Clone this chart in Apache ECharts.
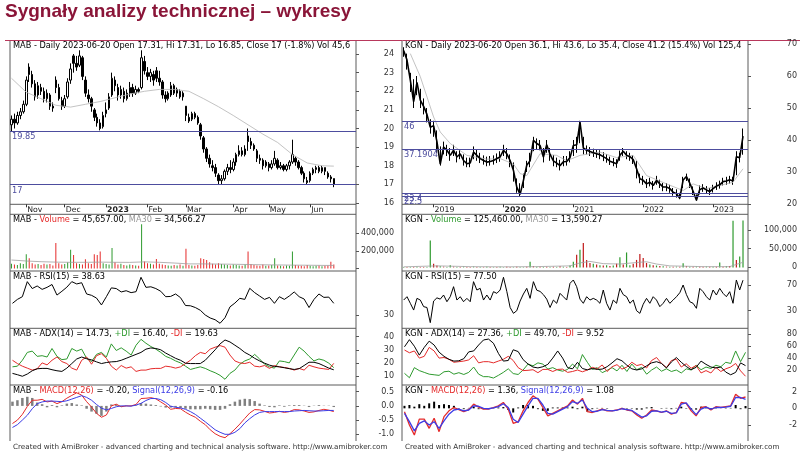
<!DOCTYPE html>
<html><head><meta charset="utf-8">
<script src="https://cdn.jsdelivr.net/npm/echarts@6/dist/echarts.min.js"></script>
<style>html,body{margin:0;padding:0;background:#fff}#c{width:800px;height:454px}</style>
</head><body><div id="c"></div><script>
// ---------------- DATA: MAB (daily candles, sampled) ----------------
const mabMonthLabels = ['Nov','Dec','2023','Feb','Mar','Apr','May','Jun'];
const mabMonthIdx = [5,18,32,46,59,75,87,101];
const mabOpen = [20.2,20.5,20.3,20.7,20.9,21.3,23.3,22.9,22.4,21.8, 22.2,22.0,21.6,21.8,21.2,22.6,22.2,21.5,21.2,21.7, 22.6,23.9,23.5,23.4,23.8,22.6,21.8,21.6,21.0,20.6, 20.3,20.1,20.8,21.1,21.8,22.6,22.2,21.8,22.0,21.6, 21.9,22.2,21.9,22.1,22.2,23.6,23.0,22.8,22.9,23.1, 22.7,22.5,21.8,21.6,21.8,22.3,21.9,22.0,21.7,21.2, 20.6,20.5,20.8,20.6,20.2,19.5,18.9,18.4,18.0,17.9, 17.5,17.2,17.3,17.7,17.9,17.8,18.2,18.6,18.8,18.6, 19.6,19.3,19.1,18.8,18.4,18.3,18.0,18.1,17.9,18.1, 18.3,17.9,18.0,17.8,18.0,18.2,18.4,18.2,17.9,17.6, 17.2,17.2,17.6,17.8,17.9,17.7,17.9,17.6,17.4,17.31];
const mabClose = [20.5,20.3,20.7,20.9,21.3,22.6,22.9,22.4,21.7,22.3, 22.0,21.6,21.9,21.2,21.1,22.2,21.6,21.2,21.6,22.5, 23.2,23.5,23.3,23.9,22.8,21.9,21.6,21.2,20.6,20.3, 20.0,20.7,21.0,21.7,22.7,22.3,21.8,22.1,21.6,21.9, 22.2,21.9,22.1,22.0,23.8,23.1,22.8,23.0,22.6,22.7, 22.5,21.8,21.6,21.9,22.3,21.9,22.1,21.7,21.9,20.7, 20.4,20.8,20.6,20.3,19.6,18.9,18.4,18.1,17.9,17.6, 17.2,17.3,17.7,17.9,17.8,18.2,18.6,18.8,18.6,18.9, 19.3,19.1,18.9,18.4,18.3,18.0,18.2,17.9,18.1,18.4, 17.9,18.0,17.8,18.0,18.2,18.6,18.2,17.9,17.6,17.3, 17.1,17.6,17.8,17.9,17.7,17.9,17.7,17.4,17.3,17.0];
const mabLow = [19.85,20.0,20.2,20.5,20.8,21.2,22.5,22.2,21.5,21.6, 21.8,21.4,21.4,21.0,20.9,21.9,21.5,21.0,21.1,21.6, 22.4,23.0,23.1,23.3,22.6,21.7,21.4,20.9,20.4,20.1, 19.9,20.0,20.6,21.0,21.7,22.0,21.5,21.6,21.4,21.5, 21.7,21.7,21.8,21.9,22.1,22.9,22.6,22.5,22.3,22.5, 22.3,21.6,21.4,21.5,21.7,21.8,21.7,21.6,21.5,20.4, 20.3,20.4,20.5,20.2,19.4,18.7,18.2,17.9,17.7,17.4, 17.0,17.0,17.2,17.5,17.6,17.7,18.0,18.5,18.5,18.5, 18.8,18.9,18.8,18.2,18.1,17.8,17.9,17.7,17.8,18.0, 17.8,17.8,17.7,17.7,17.8,18.1,18.0,17.8,17.5,17.1, 17.0,17.1,17.5,17.6,17.6,17.6,17.5,17.3,17.1,16.85];
const mabHigh = [20.7,20.8,20.9,21.1,21.5,22.8,23.5,23.1,22.6,22.5, 22.4,22.2,22.1,21.9,21.4,22.8,22.4,21.7,21.8,22.7, 23.5,24.0,23.9,24.2,23.9,22.8,22.1,21.7,21.1,20.8, 20.5,20.9,21.4,21.9,23.0,22.8,22.4,22.3,22.2,22.1, 22.5,22.4,22.3,22.2,24.2,23.9,23.3,23.2,23.1,23.3, 23.1,22.6,22.0,22.0,22.5,22.4,22.2,22.1,22.0,21.2, 20.8,20.9,20.9,20.7,20.3,19.6,19.0,18.6,18.3,18.1, 17.6,17.5,17.8,18.1,18.3,18.4,18.7,19.1,19.0,19.1, 20.0,19.5,19.2,18.9,18.6,18.4,18.3,18.2,18.3,18.8, 18.4,18.2,18.1,18.1,18.3,19.4,18.5,18.3,18.0,17.7, 17.4,17.7,17.9,18.0,18.0,18.0,17.9,17.7,17.5,17.31];
const mabMaPts = [[0,22.7],[5,21.95],[10,21.6],[15,21.25],[20,21.15],[25,21.3],[30,21.45],[35,21.65],[40,21.85],[45,22.0],[50,22.1],[55,22.1],[60,22.0],[65,21.6],[70,21.17],[75,20.7],[80,20.2],[85,19.7],[90,19.25],[95,18.6],[100,18.15],[105,18.0],[109,17.98]];
const mabLevels = [19.85, 17];
// volume in thousands
const mabVol = [55,45,40,60,50,161,115,60,45,50, 40,55,45,50,35,288,60,45,50,70, 211,154,60,50,45,104,60,50,161,154, 192,60,50,45,231,70,45,55,40,35, 45,40,35,30,500,80,60,55,45,108, 55,45,40,35,30,40,35,45,30,223, 40,35,30,40,115,108,96,70,55,45, 60,50,45,40,35,45,40,35,30,45, 192,50,40,35,30,45,30,35,40,115, 35,30,25,35,30,192,40,35,30,25, 40,30,25,30,35,25,30,35,77,45.657];
const mabVolMaPts = [[0,96],[5,85],[10,77],[15,72],[20,70],[25,70],[30,72],[35,70],[40,69],[45,75],[50,70],[55,62],[60,52],[65,52],[70,50],[75,48],[80,45],[85,42],[90,40],[95,38],[100,37],[105,35],[109,34.57]];
const mabRsi = [38.6,41.5,43.5,54.6,49.5,51.4,48.9,50.4,52.5,44.7, 47.5,50.5,54.6,52.9,53.8,45.5,44.5,42.5,37.4,43.5, 50,49.5,47,47.9,46.5,47.2,57.8,50.4,50.8,49.5, 47.5,43.5,43.7,45.5,42.8,37,36.8,35.5,33.5,30, 27.8,26.5,23.9,28,36,38.8,42.3,41.5,49.7,46.5, 44,41.5,43,38.6,43.5,41.5,44,47,43.5,41.8, 35.5,41.5,45.5,43,43.2,38.63];
const mabPlusDI = [17,17.5,22,28,29,25,25.5,24.5,31,25, 22.5,23,31,29,30.5,23.5,21,26.5,28,24.5, 34.5,29.5,31.5,29,26,33.5,38,35,32.5,30.5, 28,25,23.5,21.5,20,17.5,15,16,17,15.8, 14,12.5,10.5,7.5,12,14.5,19,21.5,23,26.5, 23,19,17,16,21.5,21,20,26,32,29, 25,21.5,23,22,19.8,16.4];
const mabMinusDI = [22,19.5,17.5,16,14.5,15.5,20,18.5,22,24.5, 21,19.5,16,14.5,22,24.5,19,25.5,27,23.5, 17.5,14.5,18,16,17,13.5,14.5,14.5,15.5,15.8, 15.8,17.5,17,16,17,19.5,22,25.5,28,27, 30.5,32,33.2,32,26,21.5,20,19.5,20.5,17.5, 17,18,15.8,18,17,16.5,15.8,14.5,15.8,14.5, 18.2,17,16,15.5,15,19.63];
const mabAdx = [12,11,9.8,11.5,14,15.5,15.8,15.8,14.8,14, 13.5,16,19.5,23,24.5,23.2,22.3,20.8,19.5,20.3, 20.8,21,22,23.5,25,26.5,28,30.5,31.4,31, 30,27.5,25.5,23.5,22,19.8,19.5,19.5,19.5,22, 26,30,34.5,37.5,36,33.5,31,28,26,23.5, 21.5,19.8,18.3,17.3,17,16.3,15.6,15,15.6,18, 20.5,20.5,19.5,17.8,16,14.73];
const mabMacd = [-0.62,-0.5,-0.3,-0.02,0.2,0.2,0.23,0.14,0.17,0.08, 0.15,0.27,0.37,0.46,0.38,0.15,-0.04,-0.26,-0.4,-0.32, 0,0.06,-0.03,0,0,0.05,0.26,0.27,0.29,0.25, 0.14,0.03,-0.12,-0.09,-0.1,-0.22,-0.32,-0.4,-0.54,-0.66, -0.84,-0.98,-1.07,-1.12,-0.98,-0.82,-0.64,-0.44,-0.25,-0.13, -0.14,-0.19,-0.25,-0.23,-0.19,-0.23,-0.2,-0.13,-0.14,-0.18, -0.23,-0.21,-0.16,-0.12,-0.15,-0.2];
const mabSignal = [-0.76,-0.66,-0.5,-0.33,-0.1,0.08,0.14,0.17,0.17,0.16, 0.15,0.18,0.24,0.3,0.36,0.3,0.2,0.05,-0.08,-0.14, -0.09,-0.03,0,0,-0.01,0.03,0.09,0.19,0.26,0.26, 0.22,0.12,-0.01,-0.05,-0.07,-0.12,-0.2,-0.3,-0.43,-0.56, -0.7,-0.84,-0.93,-1,-1,-0.93,-0.8,-0.6,-0.45,-0.32, -0.23,-0.2,-0.2,-0.2,-0.2,-0.2,-0.2,-0.18,-0.17,-0.16, -0.17,-0.18,-0.18,-0.17,-0.16,-0.16];
const mabHist = [0.15,0.2,0.28,0.32,0.28,0.12,0.06,-0.05,0.03,-0.05, 0.02,0.08,0.1,0.05,0.02,-0.1,-0.2,-0.28,-0.35,-0.2, 0.05,0.05,-0.03,0.01,0.01,0.02,0.1,0.08,0.05,0.03, -0.02,-0.06,-0.06,-0.05,-0.07,-0.1,-0.12,-0.12,-0.12,-0.1, -0.12,-0.14,-0.14,-0.1,0.06,0.15,0.22,0.25,0.24,0.17, 0.08,0.02,-0.04,-0.05,0.02,-0.03,0.02,0.03,0.03,0.01, -0.04,0.01,0.03,0.01,0.01,-0.04];

// ---------------- DATA: KGN (sampled ~ every 2.5 weeks) ----------------
const kgnYearLabels = ['2019','2020','2021','2022','2023'];
const kgnYearIdx = [9,30,51,72,93];
const kgnClose = [68,65,58.7,52,58,52.5,50.5,48,44,44.5, 39.5,32.5,37.8,36.8,35.2,36.8,34.7,35.7,33.6,32.6, 32.8,36.2,35.2,34.2,33.6,33.1,33.3,33.6,34.2,34.7, 36.8,35.7,33.6,30.5,25.3,23,27.4,32.1,33.5,39.9, 38.9,38.3,34.7,38.5,35.5,33.5,32.8,32,33.2,33.3, 34.5,38.3,38.5,45.6,37.5,36.8,36.4,36,35.7,35.4, 34.8,34.2,33.4,33,32.6,35.2,36.5,35.2,34.8,33.9, 31,27.9,27.4,26.3,26.8,25.8,27.4,26.3,25.3,25.3, 24.8,23.7,23.2,21.8,27.5,28.6,26.5,24,21.2,24.5, 25,24.4,23.9,24.8,25.6,26,27,27.2,27.6,27.2, 34.8,34.5,41.2];
const kgnHigh = [69,67,61,59,60,56,53,50,46.5,46, 43,38,39.5,38.5,37.5,38.5,36.5,37,35.5,34.5, 34.5,38,37,36,35.2,34.8,35,35.2,35.8,36.5, 38.5,37.5,35.5,33,28,26.5,29.5,33.5,36,41, 40.5,40,37.5,40,37.5,35.3,34.5,33.8,35,35, 36.5,40,41,46,41,38.3,37.8,37.3,37,36.8, 36.2,35.6,34.8,34.4,34,36.7,37.5,36.5,36,35.3, 33.5,29.5,28.8,27.8,28.2,27.2,28.8,27.6,26.6,26.5, 26,25,24.6,23.5,28.5,29.5,28,25.5,23,25.8, 26.2,25.6,25,26,26.8,27.3,28.2,28.5,28.8,28.5, 36.5,36,43.6];
const kgnLow = [66,62,55,50,54,50,48,45.5,42,41, 36,32,35.5,35,33.5,35,33,34,32,31.5, 31.5,34,33.5,32.8,32.3,31.8,32,32.3,32.8,33.2, 35,34,31.5,27,23.5,22.5,25,30,31.5,36.5, 37,36.8,33,36,33.5,31.8,31.5,30.5,31.8,32, 33,35,36,39,35.5,35.5,35,34.7,34.4,34, 33.4,32.9,32.2,31.8,31.3,33.5,35,34,33.5,32.5, 28,26.5,26,25,25.5,24.5,26,25,24,24, 23.5,22.6,22,21.5,25,27.2,25,22.8,21,23, 23.8,23.2,22.8,23.6,24.4,24.8,25.8,26,26.4,26, 29,33,35.4];
const kgnMaPts = [[2,67],[5,59.8],[9,47.2],[11,42.5],[14,38.9],[19,35.2],[25,34],[29,34.2],[33,32.5],[35,29.5],[37,28.9],[41,35.7],[46,35.2],[49,33.5],[53,35.2],[59,36.2],[64,34.5],[69,35.2],[73,28.9],[79,26.3],[84,24.2],[87,26.3],[91,24.8],[97,26.3],[99,26.8],[102,31]];
const kgnLevels = [46, 37.1904, 23.4, 22.5];
const kgnVol = [1,1,1,1,2,1,1,1,72,10, 5,3,2,1,6,2,1,1,2,1, 1,2,1,1,1,2,1,1,1,2, 1,2,1,1,2,1,1,2,15,3, 2,2,1,2,1,2,1,3,2,1, 5,15,34,47,65,20,12,10,8,6, 5,6,4,5,10,27,8,40,6,10, 20,36,25,12,8,6,5,4,3,2, 2,2,2,2,11,3,2,2,2,2, 2,2,2,2,2,13,2,3,4,125, 20,29,125.46];
const kgnVolUp = [1,0,1,0,1,0,0,1,1,0, 0,1,0,1,1,0,1,0,1,0, 0,1,0,1,0,1,0,1,0,1, 1,0,0,1,0,1,1,0,1,0, 1,0,1,0,1,0,1,0,1,0, 1,1,0,1,0,0,0,1,0,1, 0,1,0,1,0,1,0,1,1,0, 0,0,0,0,1,0,1,0,1,0, 1,0,1,0,1,0,1,0,1,0, 0,1,0,1,0,1,0,1,0,1, 0,1,1];
const kgnVolMaPts = [[0,1.5],[10,4],[20,2],[30,1.5],[40,2],[50,4],[53,12],[56,16],[60,10],[65,9],[70,13],[73,15],[76,9],[80,4],[90,2],[98,2],[100,8],[102,13.59]];
const kgnRsi = [46.6,51.8,41.5,31,49.2,46.6,36.3,35,11.4,45, 50,48,54.4,44,51.8,67.4,46.6,51.8,44,49.2, 44,75.2,62.2,64.8,46.6,54.4,46.6,59.6,57,62.2, 82,60,35,25.9,30,45,56,64.8,49.2,75.2, 62,60,55,48,35,46.6,41.5,57,51.8,46.6, 72.6,77.8,67.4,48,41.5,51.8,46.6,49.2,46.6,41.5, 62.2,41.5,31,46.6,41.5,64.8,55,51.8,41.5,46.6, 30,25.9,40,49.2,41.5,51.8,46.6,36.3,41.5,49.2, 41.5,46.6,51.8,58,70,55,44,41.5,33.7,64.8, 59.6,51.8,46.6,62.2,54.4,64.8,57,51.8,59.6,41.5, 77.8,62.2,77.5];
const kgnAdx = [59,71,60,45,58,68.5,62,50,43,38, 35,35.5,39,50.5,52,62,70.5,72,65,48, 35,36,54,51,37.5,30,25,23.5,25.5,29.5, 40,52,40,24,22,33,22.5,20.3,22.5,21, 21.5,25.6,32,39,35.5,28,22,20,22,27, 32,34,31,23.5,33.5,41,33,26,20.5,24.5, 35,29.5,25,23.5,25,16.5,12,16,32,27.36];
const kgnMinusDI = [53.6,49,52,40,43,58,52,40,41,38, 33,34,35,37,44,32,34,34,32,35, 38,43,36,24,19,19.5,20.5,15.5,21,21, 17.5,21,21.5,16,17.5,20,17,20,24.5,22, 28.5,17.5,25.5,29,21.5,25,33,27.5,29.5,23.5, 36,41,31,24,36,38,25,30.5,23,27.5, 15,19,15,24.5,17.5,22,25,31,18.5,9.52];
const kgnPlusDI = [14.4,7,24,19,16,13,12,11,17,18, 13,15.5,12.5,16,25,13,8.8,8.8,6.5,11, 16,22,14,12.5,20,30,27,32,30,21.5, 24,20,18,21,30,22,46,33,21,24, 15.5,19.5,24,18.5,28,17.5,30,20.5,24.5,13, 20,25,18,22,17.5,20,15,22,20,28, 20.5,25,22.5,28,25.5,33,31,52,34,49.7];
const kgnMacd = [-0.4,-2.0,-3.2,-1.3,-1.3,-2.4,-1.2,-2.8,-1.0,-0.3, 0.1,-0.15,-0.4,-0.15,0.5,0.15,-0.1,-0.1,0.1,0.3, 0.7,-0.1,-1.8,-1.6,-0.3,0.7,1.5,1.1,0.1,-0.9, -0.6,-0.3,0,0.3,1.0,0.5,1.2,-0.4,-0.5,-0.3, -0.1,-0.3,-0.3,-0.2,0,-0.2,-0.3,-0.8,-1.2,-0.8, -0.2,-0.3,-0.5,-0.3,-0.7,-0.5,0.7,0.6,-0.3,-0.9, 0.1,0.2,-0.2,0.2,0.1,0.2,0.3,1.7,1.2,1.36];
const kgnSignal = [-0.6,-1.6,-2.7,-1.8,-1.5,-2.0,-1.6,-2.4,-1.5,-0.7, -0.2,-0.1,-0.3,-0.2,0.3,0.25,0,-0.05,0.05,0.2, 0.55,0.1,-1.3,-1.7,-0.7,0.3,1.2,1.2,0.4,-0.6, -0.7,-0.4,-0.1,0.2,0.8,0.6,1.0,0,-0.4,-0.35, -0.15,-0.25,-0.3,-0.22,-0.05,-0.15,-0.25,-0.65,-1.05,-0.9, -0.35,-0.3,-0.45,-0.35,-0.6,-0.55,0.5,0.65,-0.1,-0.75, -0.1,0.15,-0.1,0.1,0.1,0.15,0.25,1.3,1.3,1.08];
const kgnHist = [0.3,0.4,0.2,0.5,0.3,0.6,0.8,0.4,0.5,0.4, 0.3,-0.05,-0.1,0.05,0.2,-0.1,-0.1,-0.05,0.05,0.1, 0.15,-0.2,-0.5,0.1,0.4,0.4,0.3,-0.1,-0.3,-0.3, 0.1,0.1,0.1,0.1,0.2,-0.1,0.2,-0.4,-0.1,0.05, 0.05,-0.05,0,0,0.05,-0.05,-0.05,-0.15,-0.15,0.1, 0.15,0,-0.05,0.05,-0.1,0.05,0.2,-0.05,-0.2,-0.15, 0.2,0.05,-0.1,0.1,0,0.05,0.05,0.4,-0.1,0.28];

// ---------------- tick labels ----------------
const mabPriceTicks = [16,17,18,19,20,21,22,23,24];
const mabVolTicks = [0,200,400];
const mabVolLabels = ['','200,000','400,000'];
const mabRsiTicks = [30];
const mabAdxTicks = [10,20,30,40];
const mabMacdTicks = [-1,-0.5,0,0.5];
const mabMacdLabels = ['-1.0','-0.5','0.0','0.5'];
const kgnPriceTicks = [20,30,40,50,60,70];
const kgnVolTicks = [0,50,100];
const kgnVolLabels = ['0','50,000','100,000'];
const kgnRsiTicks = [30,70];
const kgnAdxTicks = [20,40,60,80];
const kgnMacdTicks = [-2,0,2];
const kgnMacdLabels = ['-2','0','2'];

// ---------------- layout / style ----------------
const FONT = 'DejaVu Sans';
const W = 346;
const LX = [10, 402];
const PANEL = [[41,204.3],[214.3,271],[271,328.3],[328.3,385],[385,441]];
const RED = '#e52a2a', GREEN = '#2e9a2e', BLUE = '#3c3ce6', LVL = '#4d4d9e';
const TFS = 8.2;

function grid(c, p){ return {left: LX[c], top: PANEL[p][0], width: W, height: PANEL[p][1]-PANEL[p][0]}; }
function lab(ticks, labels){
  return function(v){ for (let i=0;i<ticks.length;i++){ if (Math.abs(ticks[i]-v)<1e-6) return labels ? labels[i] : String(ticks[i]); } return ''; };
}
function yAx(gi, min, max, ticks, labels, margin){
  return {type:'value', gridIndex: gi, position:'right', min, max,
    splitLine:{show:false}, axisLine:{show:false},
    axisTick:{show:true, length:3, customValues: ticks, lineStyle:{color:'#555', width:1}},
    axisLabel:{customValues: ticks, formatter: lab(ticks, labels), align:'right', margin, fontSize:8, color:'#333', fontFamily:FONT}};
}
function cats(n, idx, labels){
  const a = new Array(n).fill('');
  idx.forEach((k,i)=>{ a[k] = labels[i]; });
  return a;
}
function xHidden(gi, n){ return {type:'category', gridIndex: gi, data: new Array(n).fill(''), show:false, boundaryGap:true}; }
function xDates(gi, n, idx, labels, boldLabel){
  return {type:'category', gridIndex: gi, data: cats(n, idx, labels), boundaryGap:true,
    axisLine:{show:false},
    axisTick:{show:true, length:3, alignWithLabel:true, interval:(i,v)=>v!=='', lineStyle:{color:'#333'}},
    axisLabel:{show:true, interval:(i,v)=>v!=='', align:'left', margin:2, padding:[0,0,0,1], fontSize:7.8, color:'#222', fontFamily:FONT,
      formatter:(v)=> v===boldLabel ? '{b|'+v+'}' : v, rich:{b:{fontWeight:'bold', fontSize:7.8, fontFamily:FONT, color:'#222'}}}};
}
function levelLine(levels){
  return {symbol:['none','none'], silent:true, animation:false,
    lineStyle:{color:LVL, width:1, type:'solid'},
    label:{show:true, position:'insideStartBottom', distance:2, formatter:'{b}', color:LVL, fontSize:8.2, fontFamily:FONT},
    data: levels.map(v=>({yAxis:v, name:String(v)}))};
}
function line(xi, yi, data, color, width){
  return {type:'line', xAxisIndex: xi, yAxisIndex: yi, data, showSymbol:false, symbol:'none', connectNulls:true,
    lineStyle:{color, width: width||1}, itemStyle:{color}, silent:true, animation:false};
}

const grids = [grid(0,0),grid(0,1),grid(0,2),grid(0,3),grid(0,4), grid(1,0),grid(1,1),grid(1,2),grid(1,3),grid(1,4)];
const xAxes = [
  xDates(0,117,mabMonthIdx,mabMonthLabels,'2023'), xHidden(1,117), xHidden(2,70), xHidden(3,70), xHidden(4,70),
  xDates(5,104,kgnYearIdx,kgnYearLabels,'2020'), xHidden(6,104), xHidden(7,104), xHidden(8,70), xHidden(9,70)
];
const yAxes = [
  yAx(0,15.93,24.70,mabPriceTicks,null,38),
  yAx(1,-28.4,613.6,mabVolTicks,mabVolLabels,38),
  yAx(2,20.19,62.45,mabRsiTicks,null,38),
  yAx(3,3.13,46.41,mabAdxTicks,null,38),
  yAx(4,-1.236,0.736,mabMacdTicks,mabMacdLabels,38),
  yAx(5,19.91,70.94,kgnPriceTicks,null,49),
  yAx(6,-9.7,142.2,kgnVolTicks,kgnVolLabels,49),
  yAx(7,2.6,91.8,kgnRsiTicks,null,49),
  yAx(8,-5.2,90.1,kgnAdxTicks,null,49),
  yAx(9,-3.92,2.8,kgnMacdTicks,kgnMacdLabels,49)
];

const series = [
  {type:'candlestick', xAxisIndex:0, yAxisIndex:0, barWidth:2,
    data: mabOpen.map((o,i)=>[o, mabClose[i], mabLow[i], mabHigh[i]]),
    itemStyle:{color:'#ffffff', color0:'#000000', borderColor:'#000000', borderColor0:'#000000', borderWidth:1},
    markLine: levelLine(mabLevels), animation:false, silent:true},
  line(0,0,mabMaPts,'#b4b4b4',0.8),
  {type:'bar', xAxisIndex:1, yAxisIndex:1, barWidth:1, animation:false, silent:true,
    data: mabVol.map((v,i)=>({value:v, itemStyle:{color: mabClose[i]>=mabOpen[i] ? GREEN : RED}}))},
  line(1,1,mabVolMaPts,'#a0a0a0',0.8),
  line(2,2,mabRsi,'#000',1),
  line(3,3,mabPlusDI,GREEN,1),
  line(3,3,mabMinusDI,RED,1),
  line(3,3,mabAdx,'#000',1),
  {type:'bar', xAxisIndex:4, yAxisIndex:4, barWidth:2.5, data: mabHist, itemStyle:{color:'#808080'}, animation:false, silent:true},
  line(4,4,mabMacd,RED,1),
  line(4,4,mabSignal,BLUE,1),
  // KGN
  line(5,5,kgnMaPts,'#b4b4b4',0.8),
  {type:'candlestick', xAxisIndex:5, yAxisIndex:5, barWidth:1,
    data: kgnClose.map((c,i)=>[c, c, kgnLow[i], kgnHigh[i]]),
    itemStyle:{color:'#000', color0:'#000', borderColor:'#000', borderColor0:'#000', borderWidth:1},
    markLine: levelLine(kgnLevels), animation:false, silent:true},
  line(5,5,kgnClose,'#000',1.6),
  {type:'bar', xAxisIndex:6, yAxisIndex:6, barWidth:1.2, animation:false, silent:true,
    data: kgnVol.map((v,i)=>({value:v, itemStyle:{color: kgnVolUp[i] ? GREEN : '#c01818'}}))},
  line(6,6,kgnVolMaPts,'#a0a0a0',0.8),
  line(7,7,kgnRsi,'#000',1),
  line(8,8,kgnPlusDI,GREEN,1),
  line(8,8,kgnMinusDI,RED,1),
  line(8,8,kgnAdx,'#000',1),
  {type:'bar', xAxisIndex:9, yAxisIndex:9, barWidth:2, data: kgnHist, itemStyle:{color:'#000'}, animation:false, silent:true},
  line(9,9,kgnMacd,RED,1.3),
  line(9,9,kgnSignal,BLUE,1.3)
];

function ttl(x, yc, text, extra){
  const fs = (extra && extra.fontSize) || TFS;
  return Object.assign({left:x, top: yc-5, padding:0, text,
    textStyle:Object.assign({fontSize:TFS, lineHeight:10, fontWeight:'normal', color:'#000', fontFamily:FONT,
      rich:{r:{color:RED, fontSize:fs, fontFamily:FONT}, g:{color:GREEN, fontSize:fs, fontFamily:FONT}, m:{color:'#999', fontSize:fs, fontFamily:FONT}, b:{color:BLUE, fontSize:fs, fontFamily:FONT}}}, extra||{})});
}
const titles = [
  {left:5, top:2, padding:0, text:'Sygnały analizy technicznej – wykresy', textStyle:{fontSize:19, lineHeight:19, fontWeight:'bold', color:'#8a1538', fontFamily:'Liberation Sans'}},
  ttl(13,46,'MAB - Daily 2023-06-20 Open 17.31, Hi 17.31, Lo 16.85, Close 17 (-1.8%) Vol 45,657', {width:341, overflow:'truncate', ellipsis:''}),
  ttl(13,220,'MAB - {r|Volume} = 45,657.00, {m|MA30} = 34,566.27'),
  ttl(13,277,'MAB - RSI(15) = 38.63'),
  ttl(13,333.5,'MAB - ADX(14) = 14.73, {g|+DI} = 16.40, {r|-DI} = 19.63'),
  ttl(13,390.5,'MAB - {r|MACD(12,26)} = -0.20, {b|Signal(12,26,9)} = -0.16'),
  ttl(405,46,'KGN - Daily 2023-06-20 Open 36.1, Hi 43.6, Lo 35.4, Close 41.2 (15.4%) Vol 125,460', {width:341, overflow:'truncate', ellipsis:''}),
  ttl(405,220,'KGN - {g|Volume} = 125,460.00, {m|MA30} = 13,590.27'),
  ttl(405,277,'KGN - RSI(15) = 77.50'),
  ttl(405,333.5,'KGN - ADX(14) = 27.36, {g|+DI} = 49.70, {r|-DI} = 9.52'),
  ttl(405,390.5,'KGN - {r|MACD(12,26)} = 1.36, {b|Signal(12,26,9)} = 1.08'),
  ttl(13,447,'Created with AmiBroker - advanced charting and technical analysis software. http://www.amibroker.com', {fontSize:7.2, color:'#333'}),
  ttl(405,447,'Created with AmiBroker - advanced charting and technical analysis software. http://www.amibroker.com', {fontSize:7.2, color:'#333'})
];

const graphics = [];
const FR = '#5a5a5a';
[0,1].forEach(c=>{
  const x0 = LX[c], x1 = LX[c]+W;
  [x0, x1].forEach(x=>graphics.push({type:'line', silent:true, shape:{x1:x, y1:40.5, x2:x, y2:441}, style:{stroke:FR, lineWidth:1}}));
  [204.3,214.3,271,328.3,385].forEach(y=>graphics.push({type:'line', silent:true, shape:{x1:x0, y1:y, x2:x1, y2:y}, style:{stroke:FR, lineWidth:1}}));
});
graphics.push({type:'line', silent:true, shape:{x1:5, y1:40.5, x2:800, y2:40.5}, style:{stroke:'#b8385c', lineWidth:1}});

const chart = echarts.init(document.getElementById('c'));
chart.setOption({animation:false, backgroundColor:'#fff', title: titles, grid: grids, xAxis: xAxes, yAxis: yAxes, series, graphic: graphics});
</script></body></html>
